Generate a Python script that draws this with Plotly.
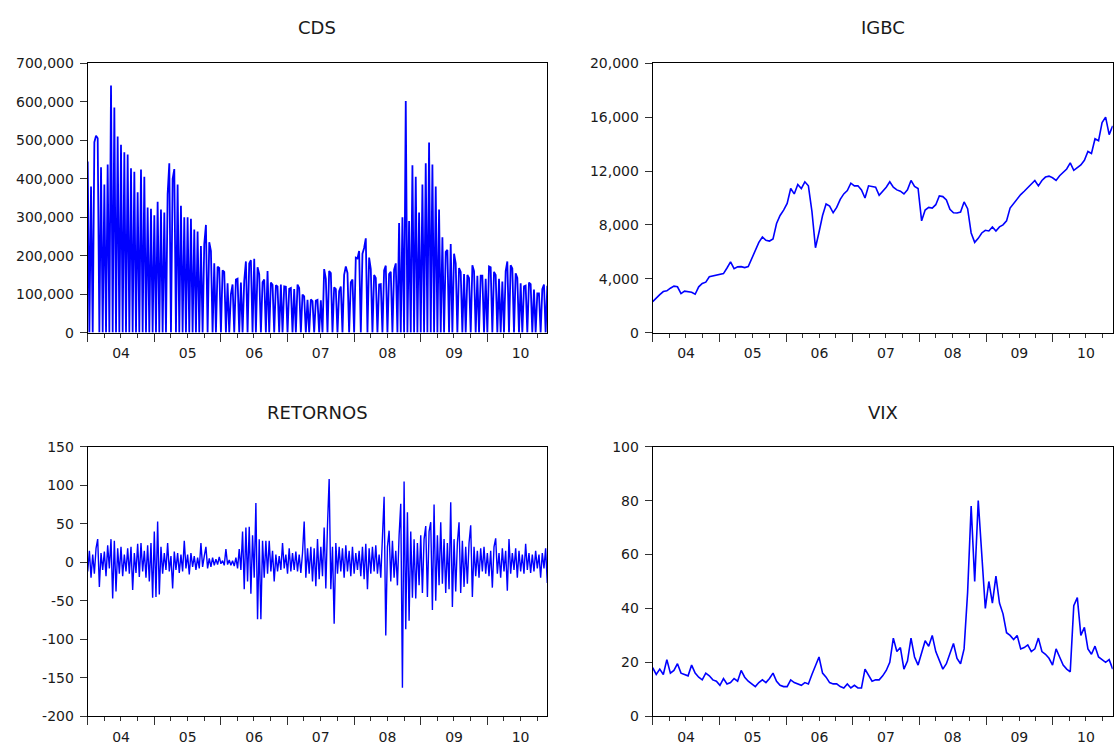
import pandas as pd
import plotly.graph_objects as go

# ---------------- data ----------------
X_START = "2004-01-01"
X_END = "2010-11-26"

TITLES = ["CDS", "IGBC", "RETORNOS", "VIX"]

# CDS level in thousands (0 = missing days shown as drops to zero)
CDS_THOUSANDS = [
    445, 0, 380, 0, 495, 512, 505, 0, 430, 0,
    385, 0, 437, 0, 642, 0, 585, 0, 510, 0,
    488, 0, 469, 0, 463, 0, 427, 0, 418, 0,
    365, 0, 424, 0, 405, 0, 325, 0, 322, 0,
    305, 0, 340, 0, 320, 0, 312, 0, 360, 440,
    0, 400, 425, 0, 385, 0, 330, 0, 300, 0,
    300, 0, 296, 0, 268, 0, 263, 0, 225, 0,
    230, 280, 0, 235, 212, 0, 180, 0, 171, 168,
    0, 162, 158, 0, 128, 0, 100, 125, 0, 138,
    140, 0, 130, 0, 135, 185, 0, 180, 188, 0,
    192, 0, 170, 152, 0, 131, 138, 0, 160, 0,
    130, 124, 0, 123, 120, 0, 125, 0, 120, 119,
    0, 114, 116, 0, 113, 0, 125, 116, 0, 99,
    94, 0, 85, 0, 86, 82, 0, 83, 85, 0,
    84, 0, 165, 140, 0, 160, 155, 0, 118, 113,
    0, 108, 120, 0, 150, 172, 155, 0, 131, 138,
    0, 195, 193, 212, 0, 205, 220, 245, 0, 195,
    165, 0, 150, 142, 0, 125, 126, 0, 162, 174,
    0, 152, 158, 0, 164, 180, 0, 285, 0, 300,
    0, 602, 0, 290, 0, 435, 0, 405, 0, 312,
    0, 385, 0, 440, 0, 494, 0, 437, 0, 380,
    0, 320, 0, 248, 0, 210, 215, 0, 230, 0,
    205, 180, 0, 168, 158, 0, 152, 0, 150, 142,
    0, 175, 160, 0, 148, 0, 148, 148, 0, 140,
    0, 172, 170, 0, 158, 150, 0, 140, 0, 133,
    0, 160, 185, 0, 175, 167, 0, 154, 142, 0,
    128, 0, 120, 122, 0, 130, 126, 0, 112, 0,
    102, 102, 0, 113, 125, 0, 122,
]

IGBC = [
    2300, 2600, 2820, 3050, 3100, 3300, 3450, 3400, 2900, 3080,
    3050, 3000, 2850, 3400, 3650, 3750, 4150, 4200, 4250, 4300,
    4380, 4800, 5250, 4750, 4880, 4900, 4830, 4900, 5500, 6000,
    6700, 7100, 6850, 6800, 6950, 8100, 8700, 9100, 9600, 10700,
    10300, 11000, 10700, 11200, 10900, 9000, 6300, 7450, 8700, 9550,
    9400, 8900, 9300, 9900, 10300, 10550, 11100, 10900, 10900, 10600,
    10000, 10900, 10850, 10800, 10200, 10500, 10800, 11200, 10800, 10600,
    10500, 10300, 10600, 11300, 10850, 10700, 8300, 9100, 9300, 9250,
    9500, 10150, 10100, 9850, 9150, 8900, 8880, 8950, 9700, 9200,
    7400, 6700, 7000, 7400, 7600, 7550, 7850, 7550, 7850, 8000,
    8300, 9250, 9600, 9950, 10250, 10500, 10750, 11000, 11300, 10900,
    11300, 11550, 11620, 11500, 11300, 11650, 11900, 12150, 12600, 12050,
    12250, 12450, 12800, 13450, 13300, 14400, 14250, 15600, 16000, 14700,
    15350,
]

RETORNOS = [
    -12, 15, -20, 10, -15, 18, 30, -32, 12, -10,
    14, -18, 22, -8, 30, -47, 28, -38, 18, -15,
    20, -18, 10, -12, 18, -15, 20, -36, 12, -14,
    24, -19, 25, -12, 15, -20, 22, -25, 25, -46,
    40, -45, 53, -42, 20, -15, 12, -10, 25, -12,
    8, -34, 14, -10, 12, -14, 10, -12, 28, -8,
    10, -16, 12, -6, 8, -10, 6, -8, 25, -6,
    8, 20, -8, 5, -6, 6, -4, 4, -3, 7,
    -2, 2, -4, 17, -3, 3, -4, 2, -5, 6,
    -8, 17, -10, 40, -35, 45, -25, 46, -41, 35,
    -20, 77, -74, 30, -74, 28, -20, 28, -15, 28,
    -12, 15, -25, 10, -12, 8, -10, 25, -8, 10,
    -15, 18, -12, 12, -10, 14, -12, 10, -14, 12,
    53, -20, 18, -15, 20, -25, 18, -31, 30, -22,
    20, -18, 45, -34, 48, 108, -35, 20, -80, 25,
    -15, 20, -12, 18, -20, 22, -12, 15, -18, 20,
    -15, 12, -10, 15, -18, 20, -22, 24, -35, 18,
    -15, 20, -12, 22, -15, 10, -20, 40, 85, -95,
    20, 41, -25, 28, -20, 15, -30, 35, 76, -163,
    105, -87, 65, -76, 40, -46, 30, -47, 25, -30,
    35, -40, 30, 47, -45, 40, 52, -62, 75, -50,
    35, -30, 52, -28, 30, -40, 25, -35, 78, -58,
    30, -38, 25, 52, -40, 28, -32, 20, -28, 25,
    48, -45, 20, -18, 15, -20, 18, -12, 20, -15,
    12, -18, 15, -33, 20, 31, -15, 12, -20, 18,
    -12, 15, -37, 30, -15, 12, -10, 18, -20, 15,
    -12, 10, -15, 24, -10, 12, -14, 10, -12, 15,
    -8, 10, -20, 12, -8, 18, -27,
]

VIX = [
    18, 15.5, 17.5, 15.5, 21, 16, 17, 19.5, 16, 15.5,
    15, 19, 16, 14.5, 13.5, 16, 15, 13.5, 13, 11.5,
    14, 12, 12.5, 14, 13, 17, 14.5, 13, 12, 11,
    12.5, 13.5, 12.5, 14, 16, 13, 11.5, 11, 11, 13.5,
    12.5, 12, 11.5, 12.5, 12, 15.5, 18.5, 22, 16, 14.5,
    12.5, 12, 12, 11, 10.5, 12, 10.5, 11.5, 10.5, 10.5,
    17.5, 15, 13, 13.5, 13.5, 15, 17, 20, 29, 24,
    25.5, 17.5, 20.5, 29, 22, 19, 24, 28, 26, 30,
    24, 21, 17.5, 19.5, 23, 27, 21.5, 19.5, 25, 46,
    78, 50, 80, 58, 40, 50, 42, 52, 42, 38,
    31, 30, 28.5, 30, 25, 25.5, 26.5, 24, 25, 29,
    24, 23, 21.5, 19, 25, 22, 19, 17.5, 16.5, 41,
    44, 30, 33, 25, 23, 26, 22, 21, 20, 21,
    17.5,
]

CDS_TICKS = [0, 100000, 200000, 300000, 400000, 500000, 600000, 700000]
IGBC_TICKS = [0, 4000, 8000, 12000, 16000, 20000]
RET_TICKS = [-200, -150, -100, -50, 0, 50, 100, 150]
RET_TICK_LABELS = ["-200", "-150", "-100", "-50", "0", "50", "100", "150"]
VIX_TICKS = [0, 20, 40, 60, 80, 100]

# ---------------- figure ----------------
W, H = 1114, 750
FONT = "DejaVu Sans"
TXT = "#1a1a1a"
BLUE = "#0000FF"

LEFT_X = (87.7, 547.3)
RIGHT_X = (652.7, 1112.7)
TOP_Y = (56.5, 331.7)
BOT_Y = (448.3, 723.7)


def xdom(px):
    return [px[0] / W, px[1] / W]


def ydom(py):
    return [1 - py[1] / H, 1 - py[0] / H]


cds = [v * 1000 for v in CDS_THOUSANDS]
series = [cds, IGBC, RETORNOS, VIX]
widths = [1.8, 1.6, 1.4, 1.6]
geoms = [(LEFT_X, TOP_Y), (RIGHT_X, TOP_Y), (LEFT_X, BOT_Y), (RIGHT_X, BOT_Y)]
yranges = [[0, 700000], [0, 20000], [-200, 150], [0, 100]]
yticks = [CDS_TICKS, IGBC_TICKS, RET_TICKS, VIX_TICKS]

fig = go.Figure()
layout = dict(
    width=W, height=H,
    margin=dict(l=0, r=0, t=0, b=0),
    paper_bgcolor="white", plot_bgcolor="white",
    showlegend=False,
    font=dict(family=FONT, size=14, color=TXT),
    annotations=[],
)

for i, (vals, lw, (gx, gy), yr, yt) in enumerate(zip(series, widths, geoms, yranges, yticks)):
    n = i + 1
    xa = "x" if n == 1 else f"x{n}"
    ya = "y" if n == 1 else f"y{n}"
    dates = pd.date_range(X_START, X_END, periods=len(vals))
    fig.add_trace(go.Scatter(
        x=dates, y=vals, mode="lines", xaxis=xa, yaxis=ya,
        line=dict(color=BLUE, width=lw), hoverinfo="skip",
    ))
    xkey = "xaxis" if n == 1 else f"xaxis{n}"
    ykey = "yaxis" if n == 1 else f"yaxis{n}"
    layout[xkey] = dict(
        domain=xdom(gx), anchor=ya, type="date",
        range=[X_START, X_END],
        tick0="2004-01-01", dtick="M12", tickformat="%y",
        ticklabelmode="period",
        ticks="outside", ticklen=8, tickwidth=1, tickcolor="#333",
        minor=dict(dtick="M3", ticks="outside", ticklen=4, tickwidth=1,
                   tickcolor="#333", showgrid=False),
        showgrid=False, zeroline=False,
        showline=True, linecolor="black", linewidth=1, mirror=True,
        tickfont=dict(family=FONT, size=14, color=TXT),
    )
    yd = dict(
        domain=ydom(gy), anchor=xa, range=yr,
        tickvals=yt,
        ticks="outside", ticklen=7, tickwidth=1, tickcolor="#333",
        showgrid=False, zeroline=False,
        showline=True, linecolor="black", linewidth=1, mirror=True,
        tickfont=dict(family=FONT, size=14, color=TXT),
        ticklabelstandoff=3,
    )
    if i == 2:
        yd["ticktext"] = RET_TICK_LABELS
    else:
        yd["tickformat"] = ","
    layout[ykey] = yd
    cx = (gx[0] + gx[1]) / 2 / W
    ty = 20 if gy == TOP_Y else 413.5
    layout["annotations"].append(dict(
        text=TITLES[i], xref="paper", yref="paper",
        x=cx, y=1 - ty / H, xanchor="center", yanchor="middle",
        showarrow=False, font=dict(family=FONT, size=18, color=TXT),
    ))

fig.update_layout(**layout)
fig.write_html("out.html")
